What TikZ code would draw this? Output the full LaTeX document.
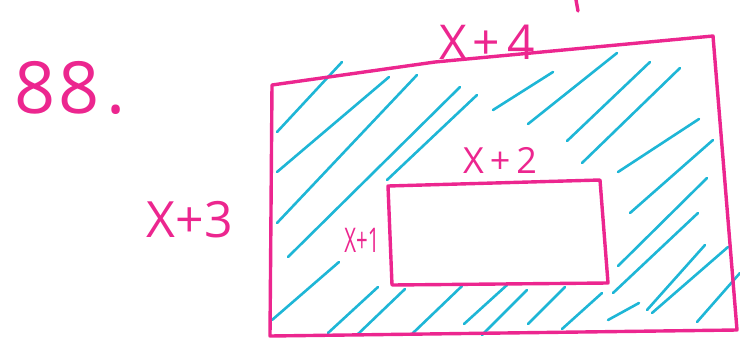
\documentclass[tikz,border=0pt]{standalone}
\usepackage{fontspec}
\setmainfont{Open Sans}
\definecolor{pen}{RGB}{236,38,143}
\definecolor{marker}{RGB}{30,182,214}
\begin{document}
\begin{tikzpicture}[x=1pt, y=-1pt, line join=round, line cap=round,
    edge/.style={draw=pen, line width=3.4pt},
    hatch/.style={draw=marker, line width=2.6pt},
    lbl/.style={text=pen, inner sep=0pt, font=\fontsize{#1}{#1}\selectfont}]
    \useasboundingbox (0,0) rectangle (740,341);
    % hatching
    \foreach \xa/\ya/\xb/\yb in {277/132/342/62, 277/172/389/77, 277/223/417/75, 288/257/460/87,
        387/180/477/95, 493/110/553/72, 528/124/617/53, 567/141/650/62, 582/163/680/68,
        618/172/699/119, 630/213/713/140, 618/266/707/178, 613/293/698/213, 647/310/705/245,
        652/313/728/247, 697/322/740/273, 608/320/639/303, 562/329/602/293, 528/324/565/287,
        272/320/339/262, 328/333/378/287, 357/335/405/289, 413/333/462/286, 464/324/507/285,
        482/335/527/290}
        \draw[hatch] (\xa,\ya) -- (\xb,\yb);
    % outer and inner rectangles
    \draw[edge] (272,85) -- (435,62) -- (713,36) -- (737,330) -- (270,336) -- cycle;
    \draw[edge] (388,186) -- (600,180) -- (608,283) -- (392,285) -- cycle;
    \draw[edge] (576,0) -- (578,11);
    % labels
    \node[lbl=72] (num) at (70,88) {8\kern3pt8\kern6pt.};
    \node[lbl=48] (top) at (487,42) {X\kern6pt+\kern7pt4};
    \node[lbl=36] (inner) at (500,160) {X\kern6pt+\kern6pt2};
    \node[lbl=50] (side) at (190,220) {X+3};
    \node[lbl=34] (short) at (362,240) {\scalebox{0.6}[1]{X+1}};
\end{tikzpicture}
\end{document}
